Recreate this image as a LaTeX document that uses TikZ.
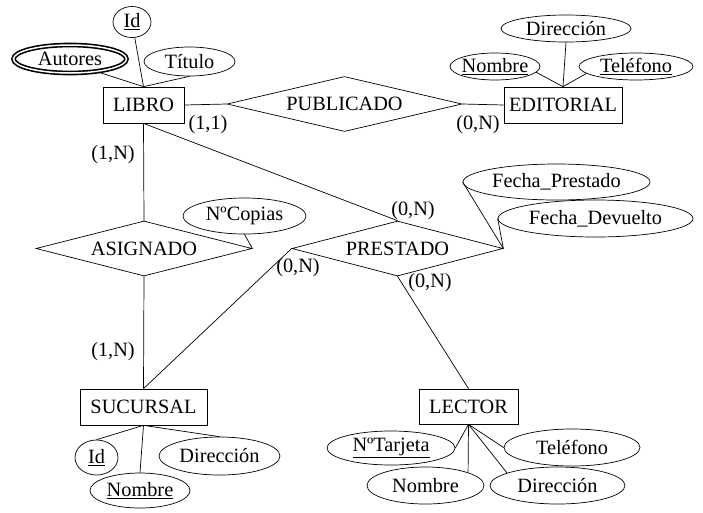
\documentclass[tikz,border=0pt]{standalone}
\usepackage{fontspec}
\setmainfont{Liberation Serif}
\usetikzlibrary{shapes.geometric}

\begin{document}
\begin{tikzpicture}[
				x=1pt, y=-1pt,
				font=\fontsize{20.3}{24}\selectfont,
				line width=0.7pt,
				entity/.style={draw, rectangle, inner sep=0pt, minimum height=36pt},
				relation/.style={draw, diamond, aspect=4, inner sep=0pt, minimum height=55pt},
				attr/.style={draw, ellipse, inner sep=-3pt, minimum height=28pt},
				multiattr/.style={attr, double, double distance=1.5pt, line width=1.6pt},
				card/.style={inner sep=0pt}
				]
				\useasboundingbox (0,0) rectangle (703,512);
				
				%--- entities --------------------------------------------------------------
				\node[entity, minimum width=81pt] (libro) at (143.5,105) {LIBRO};
				\node[entity, minimum width=118pt] (editorial) at (563,105) {EDITORIAL};
				\node[entity, minimum width=127pt] (sucursal) at (143.5,407) {SUCURSAL};
				\node[entity, minimum width=99pt, minimum height=35pt] (lector) at (468.5,406.5) {LECTOR};
				
				%--- relations -------------------------------------------------------------
				\node[relation, minimum width=235pt] (publicado) at (344.5,104) {PUBLICADO};
				\node[relation, minimum width=216pt] (asignado) at (144,248.5) {ASIGNADO};
				\node[relation, minimum width=211pt] (prestado) at (397.5,248.5) {PRESTADO};
				
				%--- attributes ------------------------------------------------------------
				\node[attr, minimum width=38pt, minimum height=31pt] (libId) at (132,22) {\underline{Id}};
				\node[multiattr, minimum width=113pt, minimum height=28pt] (libAutores) at (70,59) {Autores};
				\node[attr, minimum width=91pt, minimum height=29pt] (libTitulo) at (189.5,61.5) {Título};
				
				\node[attr, minimum width=130pt, minimum height=27pt] (edDir) at (566,28.5) {Dirección};
				\node[attr, minimum width=90pt, minimum height=27pt] (edNombre) at (495,66.5) {\underline{Nombre}};
				\node[attr, minimum width=114pt, minimum height=27pt] (edTel) at (636,66.5) {\underline{Teléfono}};
				
				\node[attr, minimum width=123pt, minimum height=36pt] (asCopias) at (244.5,216) {NºCopias};
				\node[attr, minimum width=187pt, minimum height=36pt] (prFechaP) at (556.5,182) {Fecha\_Prestado};
				\node[attr, minimum width=195pt, minimum height=37pt] (prFechaD) at (595.5,218.5) {Fecha\_Devuelto};
				
				\node[attr, minimum width=43pt, minimum height=35pt] (sucId) at (96.5,457.5) {\underline{Id}};
				\node[attr, minimum width=100pt, minimum height=35pt] (sucNombre) at (140,490.5) {\underline{Nombre}};
				\node[attr, minimum width=121pt, minimum height=38pt] (sucDir) at (219.5,456) {Dirección};
				
				\node[attr, minimum width=128pt, minimum height=34pt] (lecTarjeta) at (391,448) {\underline{NºTarjeta}};
				\node[attr, minimum width=117pt, minimum height=37pt] (lecNombre) at (425.5,485.5) {Nombre};
				\node[attr, minimum width=135pt, minimum height=37pt] (lecDir) at (557.5,485.5) {Dirección};
				\node[attr, minimum width=136pt, minimum height=37pt] (lecTel) at (572,447.5) {Teléfono};
				
				%--- cardinalities ---------------------------------------------------------
				\node[card] (cLibPub) at (208,125) {(1,1)};
				\node[card] (cEdPub) at (478,125) {(0,N)};
				\node[card] (cLibAs) at (113,155) {(1,N)};
				\node[card] (cLibPr) at (413,211) {(0,N)};
				\node[card] (cSucPr) at (298,268) {(0,N)};
				\node[card] (cLecPr) at (430,283) {(0,N)};
				\node[card] (cSucAs) at (113,352) {(1,N)};
				
				%--- relation links --------------------------------------------------------
				\draw (libro.east) -- (publicado.west);
				\draw (publicado.east) -- (editorial.west);
				\draw (libro.south) -- (asignado.north);
				\draw (libro.south) -- (prestado.north);
				\draw (asignado.south) -- (sucursal.north);
				\draw (prestado.west) -- (sucursal.north);
				\draw (prestado.south) -- (lector.north);
				
				%--- attribute links -------------------------------------------------------
				\foreach \a in {libId.-80, libAutores.-25, libTitulo.south}
				\draw (\a) -- (libro.north);
				\foreach \a in {edNombre.-8, edDir.south, edTel.188}
				\draw (\a) -- (editorial.north);
				\draw (asCopias.south) -- (asignado.east);
				\draw (prFechaP.west) -- (prestado.east);
				\draw (prFechaD.west) -- (prestado.east);
				\foreach \a in {sucId.north, sucNombre.north, sucDir.north}
				\draw (sucursal.south) -- (\a);
				\foreach \a in {lecTarjeta.east, lecNombre.17, lecDir.166, lecTel.west}
				\draw (lector.south) -- (\a);
			\end{tikzpicture}
\end{document}
